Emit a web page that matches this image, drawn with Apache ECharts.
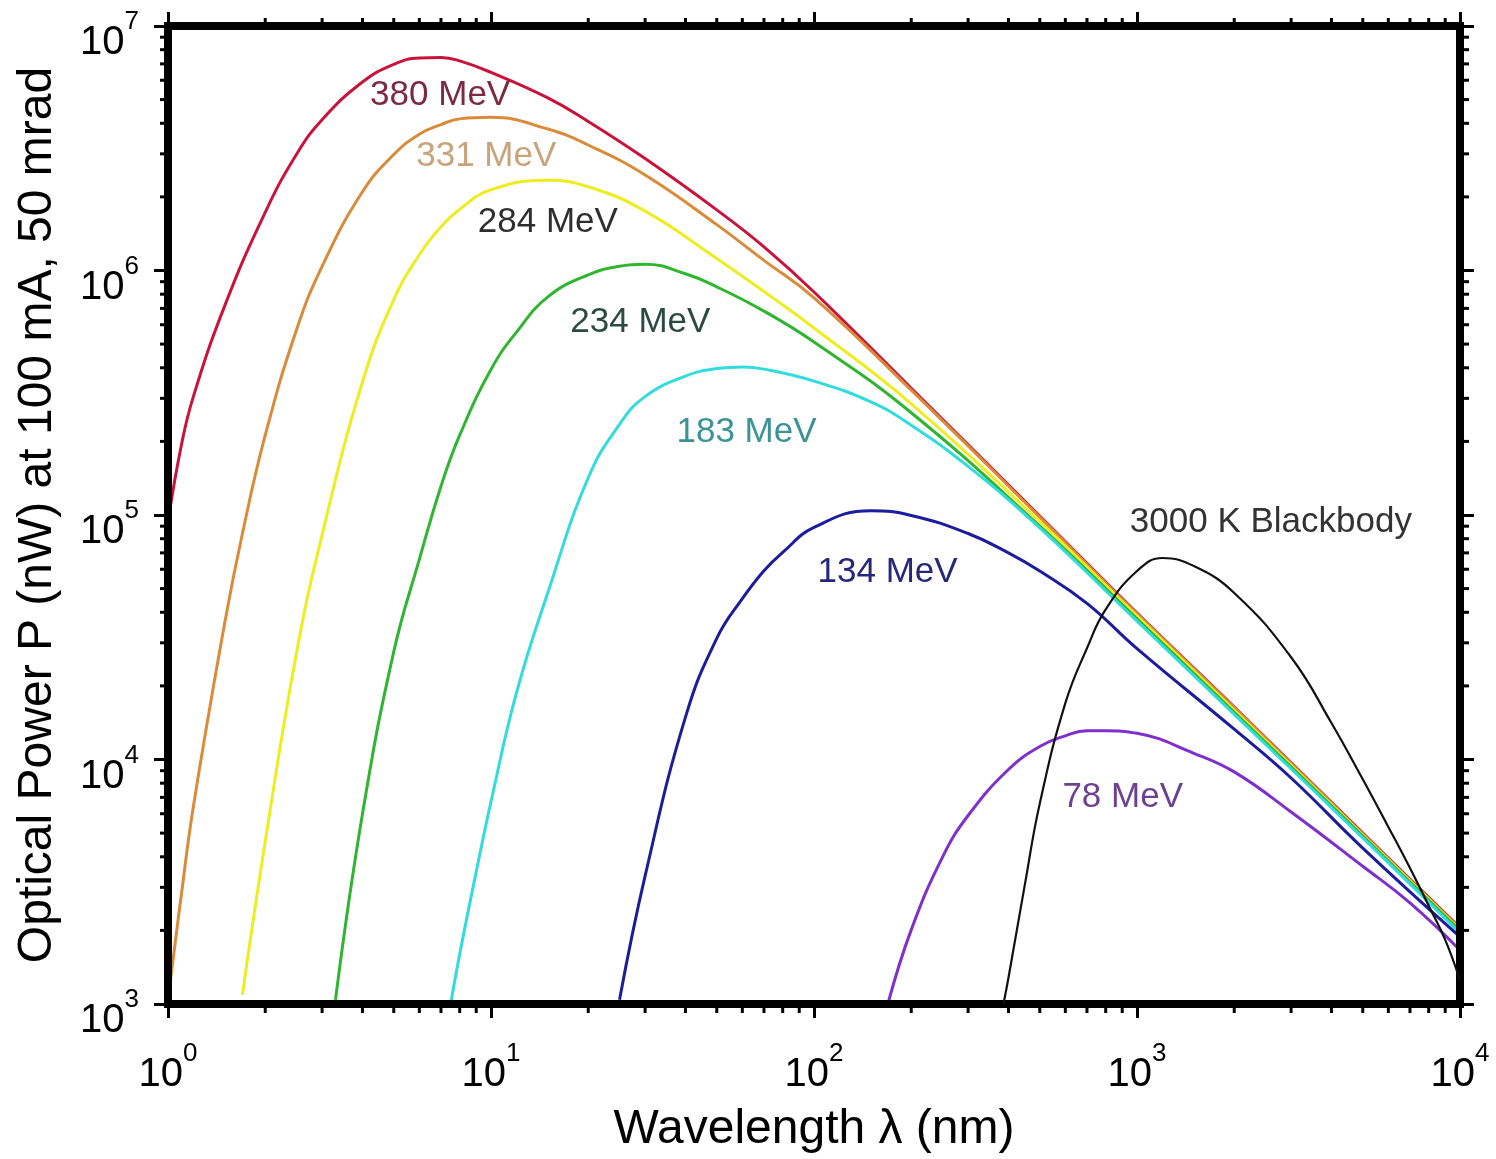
<!DOCTYPE html>
<html>
<head>
<meta charset="utf-8">
<script src="https://cdn.jsdelivr.net/npm/echarts@6/dist/echarts.min.js"></script>
<style>
html,body{margin:0;padding:0;background:#fff;}
#chart{width:1496px;height:1159px;}
</style>
</head>
<body>
<div id="chart"></div>
<script>
// ---- data (wavelength nm, optical power nW) ----
const wl380 = [1, 1.1, 1.2, 1.5, 2, 2.5, 3, 4, 5, 6, 7, 8, 10, 15, 20, 30, 50, 70, 100, 200, 500, 1000, 2000, 5000, 10000];
const p380  = [9.4e4, 1.93e5, 3.07e5, 7.2e5, 1.73e6, 2.99e6, 4.14e6, 5.9e6, 6.97e6, 7.4e6, 7.43e6, 7.2e6, 6.46e6, 5.08e6, 4.07e6, 2.87e6, 1.77e6, 1.25e6, 8.17e5, 3.3e5, 9.9e4, 3.97e4, 1.64e4, 5.0e3, 2.05e3];

const wl331 = [1, 1.1, 1.2, 1.5, 1.7, 2, 2.5, 3, 4, 5, 6, 7, 8, 10, 15, 20, 30, 50, 70, 100, 200, 500, 1000, 2000, 5000, 10000];
const p331  = [1.04e3, 2.8e3, 6.5e3, 3.65e4, 8.4e4, 2.12e5, 5.72e5, 1.04e6, 2.1e6, 2.98e6, 3.61e6, 3.95e6, 4.17e6, 4.23e6, 3.79e6, 3.26e6, 2.46e6, 1.54e6, 1.1e6, 7.73e5, 3.24e5, 9.8e4, 3.94e4, 1.63e4, 4.95e3, 2.03e3];

const wl284 = [1.7, 2, 2.5, 3, 4, 5, 6, 7, 8, 10, 15, 20, 30, 50, 70, 100, 200, 500, 1000, 2000, 5000, 10000];
const p284  = [1.09e3, 4.62e3, 2.73e4, 8.3e4, 3.5e5, 7.6e5, 1.16e6, 1.51e6, 1.78e6, 2.14e6, 2.34e6, 2.2e6, 1.75e6, 1.12e6, 8.2e5, 5.82e5, 2.85e5, 9.4e4, 3.86e4, 1.59e4, 4.91e3, 2.01e3];

const wl234 = [3.3, 4, 5, 6, 7, 8, 10, 12, 15, 20, 25, 30, 40, 50, 70, 100, 200, 500, 1000, 2000, 5000, 10000];
const p234  = [1.04e3, 5.98e3, 2.76e4, 6.58e4, 1.31e5, 2.12e5, 3.94e5, 5.6e5, 7.8e5, 9.6e5, 1.04e6, 1.06e6, 9.7e5, 8.57e5, 6.82e5, 5.1e5, 2.62e5, 9.0e4, 3.76e4, 1.56e4, 4.86e3, 1.99e3];

const wl183 = [7.5, 8, 9, 10, 12, 15, 20, 25, 30, 40, 50, 60, 70, 100, 150, 200, 300, 500, 1000, 2000, 5000, 10000];
const p183  = [1.0e3, 1.6e3, 3.47e3, 6.73e3, 1.88e4, 4.82e4, 1.42e5, 2.35e5, 3.05e5, 3.7e5, 3.97e5, 4.03e5, 3.95e5, 3.53e5, 2.9e5, 2.33e5, 1.58e5, 8.86e4, 3.68e4, 1.53e4, 4.78e3, 1.95e3];

const wl134 = [25, 30, 40, 50, 60, 70, 80, 100, 150, 200, 300, 400, 500, 700, 1000, 2000, 3000, 5000, 10000];
const p134  = [1.04e3, 3.34e3, 1.49e4, 3.13e4, 4.55e4, 5.92e4, 7.03e4, 8.9e4, 1.04e5, 9.96e4, 8.4e4, 7.0e4, 5.9e4, 4.35e4, 2.84e4, 1.33e4, 8.4e3, 4.34e3, 1.88e3];

const wl78 = [170, 200, 250, 300, 400, 500, 600, 700, 800, 1000, 1500, 2000, 3000, 5000, 7000, 10000];
const p78  = [1.02e3, 2.01e3, 3.99e3, 5.9e3, 9.1e3, 1.13e4, 1.25e4, 1.31e4, 1.31e4, 1.28e4, 1.06e4, 8.9e3, 6.1e3, 3.66e3, 2.59e3, 1.66e3];

const wlBB = [386, 400, 450, 500, 600, 700, 800, 1000, 1200, 1500, 2000, 3000, 4000, 5000, 6000, 7000, 8000, 9000, 10000];
const pBB  = [1.0e3, 1.28e3, 3.1e3, 6.6e3, 1.7e4, 2.85e4, 4.11e4, 5.9e4, 6.67e4, 6.18e4, 4.8e4, 2.62e4, 1.41e4, 8.3e3, 5.3e3, 3.6e3, 2.52e3, 1.83e3, 1.25e3];

// tick values
const xTicks = [1, 10, 100, 1000, 10000];
const yTicks = [1e3, 1e4, 1e5, 1e6, 1e7];

// curve names / label text and label anchor (data units)
const curveNames  = ['380 MeV', '331 MeV', '284 MeV', '234 MeV', '183 MeV', '134 MeV', '78 MeV', '3000 K Blackbody'];
const labelAnchors = [[6.96, 5.22e6], [9.67, 2.94e6], [15.0, 1.58e6], [29.0, 6.15e5], [61.8, 2.18e5], [169, 5.8e4], [903, 6.97e3], [2597, 9.36e4]];

// ---- styling ----
const FONT = "'Liberation Sans', Arial, Helvetica, sans-serif";
const lineColors  = ['#c8143c', '#d98b3a', '#eded22', '#30b530', '#33dcdc', '#1c1c9c', '#7f2fca', '#111111'];
const labelColors = ['#7c2a40', '#c8a47a', '#2e2e2e', '#2a4a42', '#3a9495', '#26267a', '#6c4290', '#333333'];
const lineWidths  = [3, 3, 3, 3, 3, 3, 3, 2.2];

const xs = [wl380, wl331, wl284, wl234, wl183, wl134, wl78, wlBB];
const ys = [p380, p331, p284, p234, p183, p134, p78, pBB];

const zip = (a, b) => a.map((v, i) => [v, b[i]]);

const minorX = [];
for (let e = 0; e < 4; e++) for (let m = 2; m <= 9; m++) minorX.push(m * Math.pow(10, e));
const minorY = [];
for (let e = 3; e < 7; e++) for (let m = 2; m <= 9; m++) minorY.push(m * Math.pow(10, e));

const supRich = {
  b: {fontSize: 40, fontFamily: FONT, color: '#000', lineHeight: 54, verticalAlign: 'bottom'},
  s: {fontSize: 26, fontFamily: FONT, color: '#000', lineHeight: 26, verticalAlign: 'top'}
};
const expFmt = v => '{b|10}{s|' + Math.round(Math.log10(v)) + '}';

const axisLineStyle = {color: '#000', width: 8, cap: 'square'};
const majorTick = {show: true, inside: false, length: 14, lineStyle: {color: '#000', width: 3}};

const series = curveNames.map((name, i) => ({
  name: name,
  type: 'line',
  xAxisIndex: 0, yAxisIndex: 0,
  data: zip(xs[i], ys[i]),
  showSymbol: false,
  symbol: 'none',
  smooth: 0.45,
  clip: true,
  lineStyle: {color: lineColors[i], width: lineWidths[i]},
  z: 3 + i,
  markPoint: {
    symbol: 'circle',
    symbolSize: 1,
    silent: true,
    itemStyle: {color: 'rgba(0,0,0,0)'},
    label: {
      show: true, position: 'inside', formatter: name,
      color: labelColors[i], fontSize: 35, fontFamily: FONT, fontWeight: 'normal'
    },
    data: [{coord: labelAnchors[i]}]
  }
}));

series.push({
  type: 'custom', xAxisIndex: 0, yAxisIndex: 0, silent: true, clip: false, z: 20,
  data: minorX.map(v => [v, 1e3]),
  renderItem: (params, api) => {
    const x = api.value(0);
    const b = api.coord([x, 1e3]);
    const t = api.coord([x, 1e7]);
    return {type: 'group', children: [
      {type: 'line', shape: {x1: b[0], y1: b[1], x2: b[0], y2: b[1] + 9}, style: {stroke: '#000', lineWidth: 3}},
      {type: 'line', shape: {x1: t[0], y1: t[1], x2: t[0], y2: t[1] - 8}, style: {stroke: '#000', lineWidth: 3}}
    ]};
  }
});
series.push({
  type: 'custom', xAxisIndex: 0, yAxisIndex: 0, silent: true, clip: false, z: 20,
  data: minorY.map(v => [1, v]),
  renderItem: (params, api) => {
    const y = api.value(1);
    const l = api.coord([1, y]);
    const r = api.coord([1e4, y]);
    return {type: 'group', children: [
      {type: 'line', shape: {x1: l[0], y1: l[1], x2: l[0] - 8, y2: l[1]}, style: {stroke: '#000', lineWidth: 3}},
      {type: 'line', shape: {x1: r[0], y1: r[1], x2: r[0] + 9, y2: r[1]}, style: {stroke: '#000', lineWidth: 3}}
    ]};
  }
});

const chart = echarts.init(document.getElementById('chart'), null, {renderer: 'canvas'});
chart.setOption({
  backgroundColor: '#ffffff',
  animation: false,
  grid: {left: 168, right: 36, top: 26, bottom: 155, containLabel: false},
  xAxis: [
    {
      type: 'log', logBase: 10, min: xTicks[0], max: xTicks[xTicks.length - 1], position: 'bottom', z: 10,
      axisLine: {show: true, onZero: false, lineStyle: axisLineStyle},
      axisTick: majorTick,
      splitLine: {show: false},
      axisLabel: {show: true, margin: 37, formatter: expFmt, rich: supRich, showMinLabel: true, showMaxLabel: true, hideOverlap: false},
      name: 'Wavelength \u03bb (nm)', nameLocation: 'middle', nameGap: 102,
      nameTextStyle: {fontSize: 48, fontFamily: FONT, color: '#000'}
    },
    {
      type: 'log', logBase: 10, min: xTicks[0], max: xTicks[xTicks.length - 1], position: 'top', z: 10,
      axisLine: {show: true, onZero: false, lineStyle: axisLineStyle},
      axisTick: majorTick,
      splitLine: {show: false},
      axisLabel: {show: false}
    }
  ],
  yAxis: [
    {
      type: 'log', logBase: 10, min: yTicks[0], max: yTicks[yTicks.length - 1], position: 'left', z: 10,
      axisLine: {show: true, onZero: false, lineStyle: axisLineStyle},
      axisTick: majorTick,
      splitLine: {show: false},
      axisLabel: {show: true, margin: 29, padding: [20, 0, 0, 0], formatter: expFmt, rich: supRich, showMinLabel: true, showMaxLabel: true, hideOverlap: false},
      name: 'Optical Power P (nW) at 100 mA, 50 mrad', nameLocation: 'middle', nameGap: 106,
      nameTextStyle: {fontSize: 48, fontFamily: FONT, color: '#000'}
    },
    {
      type: 'log', logBase: 10, min: yTicks[0], max: yTicks[yTicks.length - 1], position: 'right', z: 10,
      axisLine: {show: true, onZero: false, lineStyle: axisLineStyle},
      axisTick: majorTick,
      splitLine: {show: false},
      axisLabel: {show: false}
    }
  ],
  series: series
});
</script>
</body>
</html>
